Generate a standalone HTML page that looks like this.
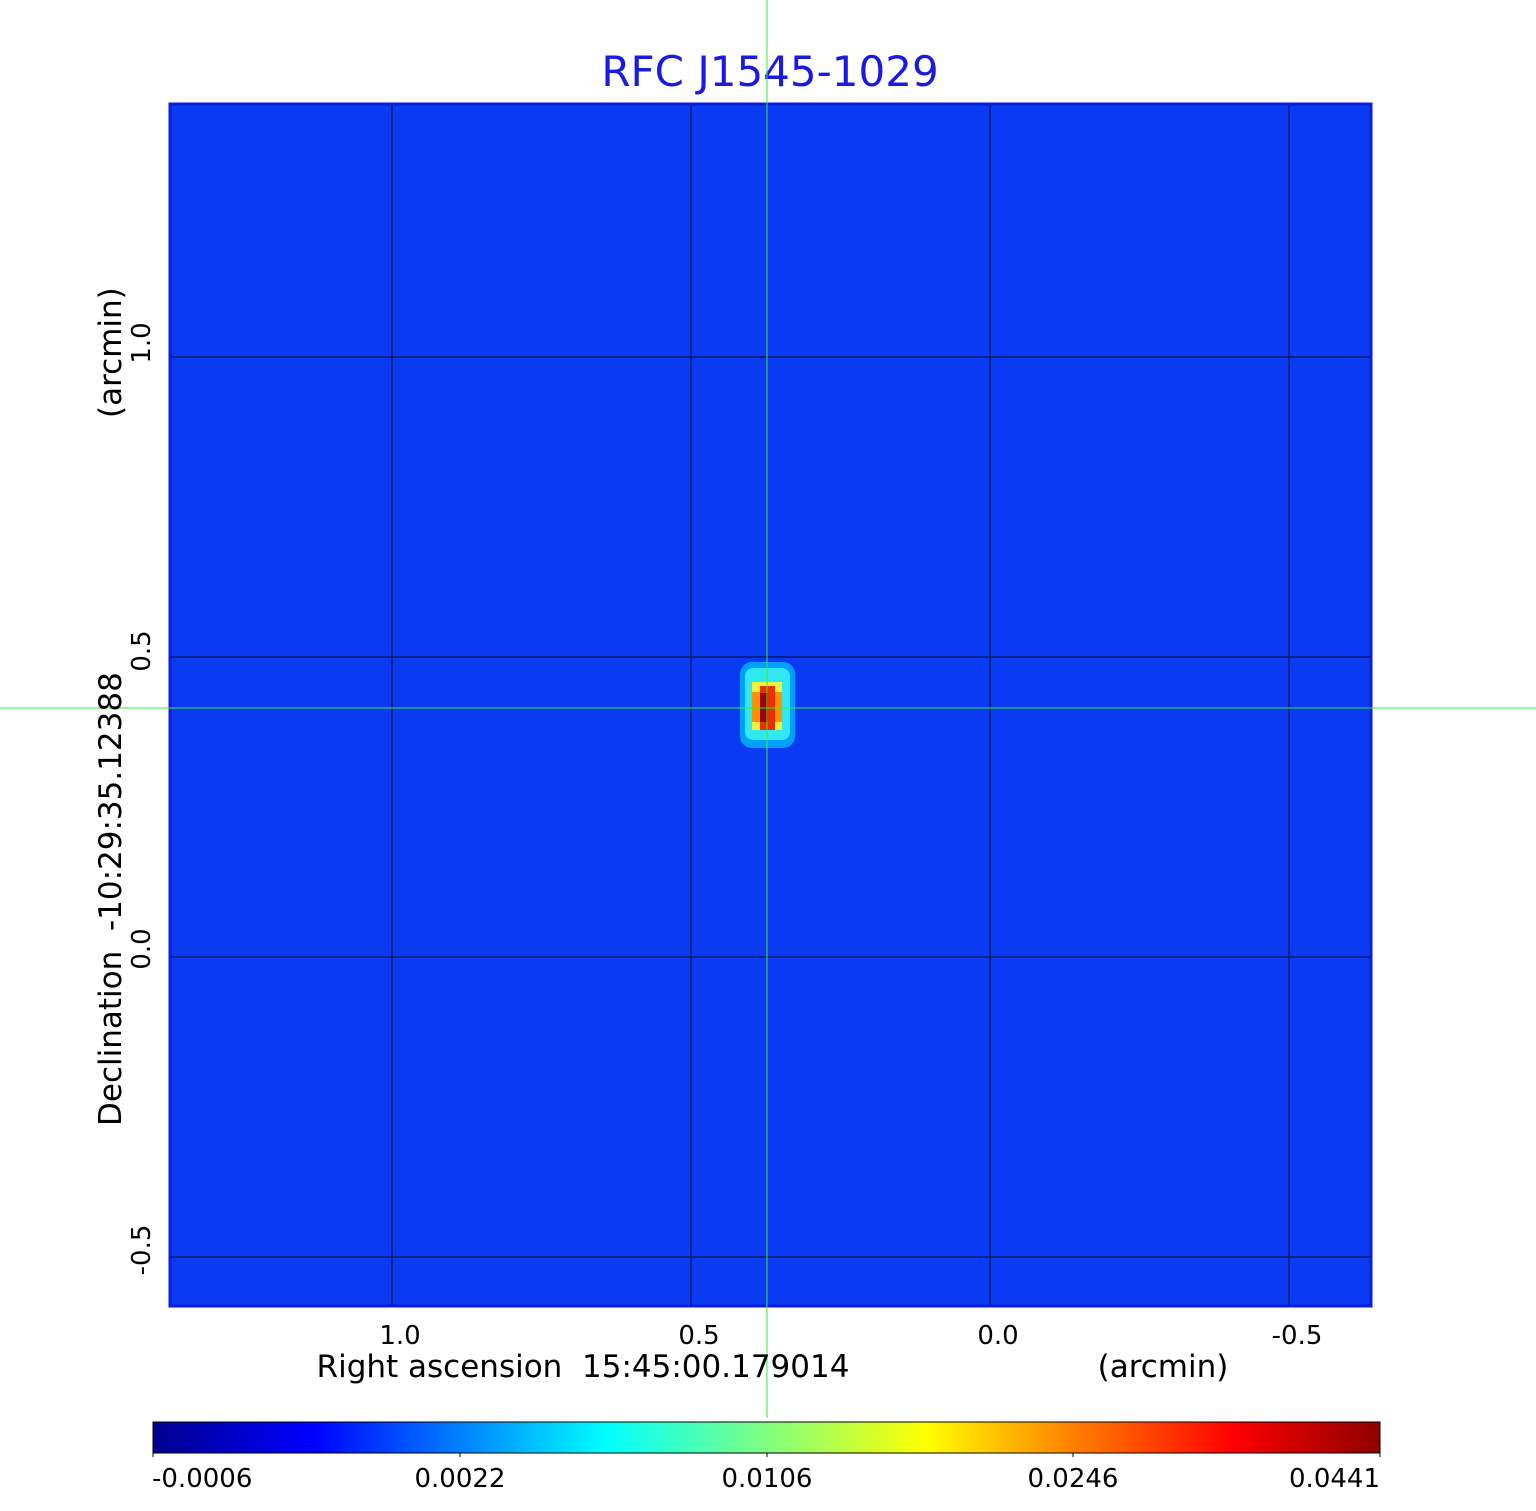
<!DOCTYPE html>
<html><head><meta charset="utf-8"><style>
body{margin:0;background:#fff;}
svg{display:block;font-family:"DejaVu Sans","Liberation Sans",sans-serif;}
text{white-space:pre;}
</style></head><body>
<svg width="1536" height="1511" viewBox="0 0 1536 1511" xmlns="http://www.w3.org/2000/svg" xml:space="preserve">
<defs>
<linearGradient id="jet" x1="0" x2="1" y1="0" y2="0">
<stop offset="0" stop-color="#00008f"/>
<stop offset="0.13" stop-color="#0000ff"/>
<stop offset="0.25" stop-color="#0080ff"/>
<stop offset="0.37" stop-color="#00ffff"/>
<stop offset="0.5" stop-color="#80ff80"/>
<stop offset="0.63" stop-color="#ffff00"/>
<stop offset="0.75" stop-color="#ff8000"/>
<stop offset="0.88" stop-color="#ff0000"/>
<stop offset="1" stop-color="#8f0000"/>
</linearGradient>
</defs>
<text x="770" y="86" font-size="42" fill="#1a1ae0" text-anchor="middle">RFC J1545-1029</text>
<rect x="170" y="104" width="1201" height="1202" fill="#0a3af2" stroke="#0a1ee0" stroke-width="3"/>
<g stroke="#000" stroke-width="1" opacity="0.8">
<line x1="392" y1="105" x2="392" y2="1305"/>
<line x1="691" y1="105" x2="691" y2="1305"/>
<line x1="990" y1="105" x2="990" y2="1305"/>
<line x1="1289" y1="105" x2="1289" y2="1305"/>
<line x1="171" y1="357" x2="1370" y2="357"/>
<line x1="171" y1="657" x2="1370" y2="657"/>
<line x1="171" y1="957" x2="1370" y2="957"/>
<line x1="171" y1="1257" x2="1370" y2="1257"/>
</g>
<rect x="740" y="662" width="55" height="86" rx="12" fill="#00a0ff"/>
<rect x="745" y="668" width="45" height="72" rx="8" fill="#30e8f0"/>
<rect x="752" y="682" width="30" height="48" fill="#f0f040"/>
<rect x="752" y="692" width="30" height="30" fill="#ff9000"/>
<rect x="760" y="686" width="15" height="44" fill="#e83000"/>
<rect x="760" y="693" width="8" height="29" fill="#a00000"/>
<line x1="767" y1="0" x2="767" y2="1418" stroke="#33ee33" stroke-width="1"/>
<line x1="0" y1="708" x2="1536" y2="708" stroke="#33ee33" stroke-width="1"/>
<g font-size="26" fill="#000" text-anchor="middle">
<text x="400" y="1344">1.0</text>
<text x="699" y="1344">0.5</text>
<text x="998" y="1344">0.0</text>
<text x="1297" y="1344">-0.5</text>
</g>
<text x="583" y="1377" font-size="31" text-anchor="middle">Right ascension  15:45:00.179014</text>
<text x="1163" y="1377" font-size="31" text-anchor="middle">(arcmin)</text>
<g font-size="26" text-anchor="middle">
<text transform="translate(150,343) rotate(-90)">1.0</text>
<text transform="translate(150,651) rotate(-90)">0.5</text>
<text transform="translate(150,949) rotate(-90)">0.0</text>
<text transform="translate(150,1250) rotate(-90)">-0.5</text>
</g>
<text transform="translate(121,1126) rotate(-90)" font-size="31">Declination  -10:29:35.12388</text>
<text transform="translate(121,418) rotate(-90)" font-size="31">(arcmin)</text>
<rect x="153" y="1422" width="1227" height="31" fill="url(#jet)" stroke="#000" stroke-width="1"/>
<g stroke="#000"><line x1="153" y1="1453" x2="153" y2="1457"/><line x1="460" y1="1453" x2="460" y2="1457"/><line x1="767" y1="1453" x2="767" y2="1457"/><line x1="1073" y1="1453" x2="1073" y2="1457"/><line x1="1380" y1="1453" x2="1380" y2="1457"/></g>
<g font-size="26">
<text x="152" y="1487">-0.0006</text>
<text x="460" y="1487" text-anchor="middle">0.0022</text>
<text x="767" y="1487" text-anchor="middle">0.0106</text>
<text x="1073" y="1487" text-anchor="middle">0.0246</text>
<text x="1380" y="1487" text-anchor="end">0.0441</text>
</g>
</svg>
</body></html>
